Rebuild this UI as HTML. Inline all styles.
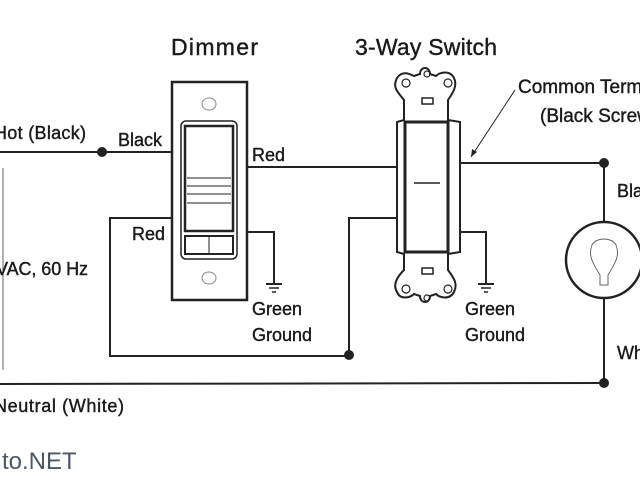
<!DOCTYPE html>
<html><head><style>
html,body{margin:0;padding:0;background:#fff;}
svg{display:block;}
text{font-family:"Liberation Sans",sans-serif;fill:#1a1a1a;stroke:#1a1a1a;stroke-width:0.4;}
</style></head><body>
<svg width="640" height="480" viewBox="0 0 640 480" xmlns="http://www.w3.org/2000/svg">
<g stroke="#222" stroke-width="2" fill="none">
<line x1="0" y1="152" x2="172" y2="152"/>
<polyline points="172,218 110,218 110,356 349,356 349,218 397,218"/>
<line x1="247" y1="167" x2="397" y2="167"/>
<polyline points="247,232 274,232 274,284"/>
<line x1="460" y1="163" x2="604" y2="163"/>
<polyline points="460,232 486,232 486,284"/>
<line x1="604" y1="163" x2="604" y2="222"/>
<line x1="604" y1="298" x2="604" y2="383"/>
<line x1="0" y1="384" x2="604" y2="383"/>
<line x1="266" y1="284" x2="282" y2="284"/><line x1="269" y1="288" x2="279" y2="288" stroke-width="1.5"/><line x1="272" y1="292" x2="276" y2="292" stroke-width="1.5"/>
<line x1="478" y1="284" x2="494" y2="284"/><line x1="481" y1="288" x2="491" y2="288" stroke-width="1.5"/><line x1="484" y1="292" x2="488" y2="292" stroke-width="1.5"/>
<rect x="172" y="82" width="75" height="218" stroke-width="2.5"/>
<rect x="181" y="121" width="56" height="138" rx="5" stroke-width="1.5"/>
<rect x="185" y="126" width="48" height="105" stroke-width="2.5"/>
<line x1="187" y1="178" x2="231" y2="178" stroke-width="1"/>
<line x1="187" y1="186" x2="231" y2="186" stroke-width="1"/>
<line x1="187" y1="194" x2="231" y2="194" stroke-width="1"/>
<line x1="187" y1="203" x2="231" y2="203" stroke-width="1"/>
<rect x="185" y="236" width="48" height="18" stroke-width="2"/>
<line x1="209" y1="236" x2="209" y2="254" stroke-width="1"/>
<ellipse cx="209" cy="104" rx="7" ry="6" stroke-width="1" stroke="#888"/>
<ellipse cx="209" cy="278" rx="7" ry="6" stroke-width="1" stroke="#888"/>
<path d="M404,100 C398,92 392,88 397,78 C402,70 410,74 414,76 L420,74 C420,66 430,66 430,74 L436,76 C440,72 450,70 454,78 C458,86 452,94 448,100 L448,120 L460,122 L460,252 L448,254 L448,270 C454,278 458,284 454,292 C450,300 440,298 436,294 L430,296 C430,304 420,304 420,296 L414,294 C410,298 400,300 397,292 C392,284 398,276 404,270 L404,254 L397,252 L397,122 L404,120 Z" stroke-width="2"/>
<rect x="405" y="122" width="43" height="130" stroke-width="3"/>
<line x1="414" y1="183" x2="440" y2="183" stroke-width="1.5"/>
<rect x="422" y="98" width="11" height="6" stroke-width="1.5"/>
<rect x="422" y="268" width="11" height="6" stroke-width="1.5"/>
<circle cx="406" cy="83" r="4" stroke-width="1.2"/><circle cx="448" cy="83" r="4" stroke-width="1.2"/>
<circle cx="406" cy="289" r="4" stroke-width="1.2"/><circle cx="448" cy="289" r="4" stroke-width="1.2"/>
<circle cx="427" cy="74" r="3" stroke-width="1.2"/><circle cx="427" cy="298" r="3" stroke-width="1.2"/>
<line x1="515" y1="90" x2="471" y2="157" stroke-width="1"/>
<circle cx="604" cy="260" r="38" stroke-width="2.5"/>
<path d="M600,285 L600,275 C592,262 588,255 592,245 C596,237 612,237 616,245 C620,255 616,262 608,275 L608,285 Z" stroke-width="1" stroke="#666"/>
<line x1="3" y1="168" x2="3" y2="370" stroke-width="1" stroke="#666"/>
</g>
<g fill="#222">
<circle cx="102" cy="152" r="5"/>
<circle cx="349" cy="355" r="5"/>
<circle cx="604" cy="163" r="5"/>
<circle cx="604" cy="383" r="5"/>
<path d="M471,157 L472,149 L477,152 Z"/>
</g>
<text x="171" y="55" font-size="23" textLength="87">Dimmer</text>
<text x="355" y="55" font-size="23" textLength="142">3-Way Switch</text>
<text x="518" y="93" font-size="19">Common Terminal</text>
<text x="540" y="122" font-size="19">(Black Screw)</text>
<text x="-6" y="139" font-size="18" textLength="92">Hot (Black)</text>
<text x="118" y="146" font-size="18">Black</text>
<text x="252" y="161" font-size="18">Red</text>
<text x="132" y="240" font-size="18">Red</text>
<text x="-4" y="275" font-size="18" textLength="92">VAC, 60 Hz</text>
<text x="252" y="315" font-size="18">Green</text>
<text x="252" y="341" font-size="18">Ground</text>
<text x="465" y="315" font-size="18">Green</text>
<text x="465" y="341" font-size="18">Ground</text>
<text x="617" y="197" font-size="18">Black</text>
<text x="617" y="359" font-size="18">White</text>
<text x="-6" y="412" font-size="18" textLength="130">Neutral (White)</text>
<text x="2" y="469" font-size="24" style="fill:#4a5866;stroke:none">to.NET</text>
</svg>
</body></html>
